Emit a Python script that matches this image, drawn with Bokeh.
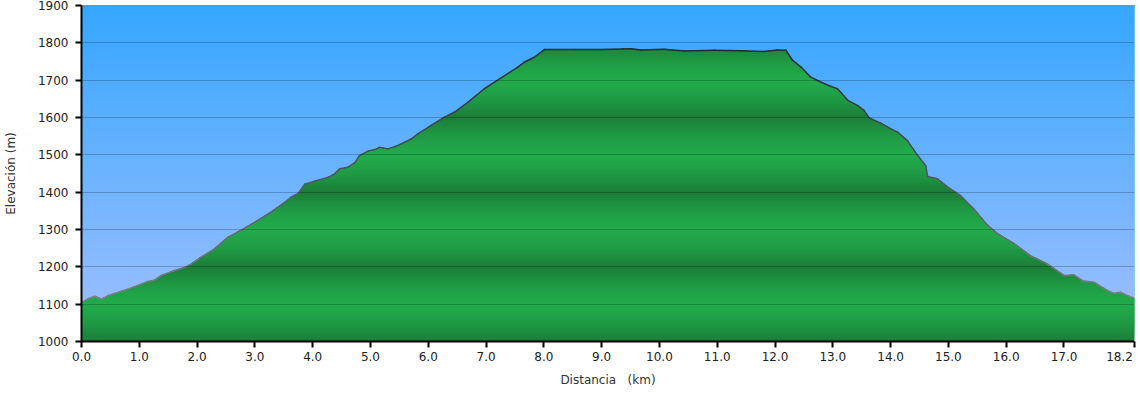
import numpy as np
from bokeh.plotting import figure
from bokeh.models import Range1d, FixedTicker, Span, PrintfTickFormatter
from bokeh.embed import file_html
from bokeh.resources import INLINE

# ---------------- data ----------------
DIST_KM = [0.00, 0.12, 0.23, 0.35, 0.46, 0.69, 0.92, 1.15, 1.27, 1.38, 1.61, 1.79,
           1.90, 2.07, 2.30, 2.53, 2.77, 3.00, 3.23, 3.46, 3.63, 3.75, 3.86, 4.03,
           4.27, 4.38, 4.47, 4.61, 4.73, 4.81, 4.96, 5.07, 5.16, 5.30, 5.42, 5.53,
           5.71, 5.82, 6.05, 6.28, 6.45, 6.69, 6.97, 7.26, 7.55, 7.66, 7.84, 8.01,
           8.53, 9.00, 9.51, 9.68, 10.08, 10.43, 10.95, 11.40, 11.81, 12.04, 12.19,
           12.30, 12.45, 12.62, 12.79, 12.97, 13.08, 13.26, 13.43, 13.54, 13.63,
           13.83, 14.00, 14.12, 14.29, 14.47, 14.61, 14.64, 14.81, 14.98, 15.21,
           15.44, 15.68, 15.85, 16.14, 16.42, 16.71, 17.00, 17.17, 17.32, 17.52,
           17.75, 17.87, 17.98, 18.10, 18.22]
ELEV_M = [1105, 1115, 1121, 1114, 1123, 1135, 1147, 1161, 1165, 1177, 1190, 1199,
          1208, 1226, 1248, 1279, 1299, 1320, 1342, 1366, 1387, 1397, 1421, 1429,
          1440, 1449, 1463, 1467, 1479, 1498, 1510, 1514, 1520, 1516, 1522, 1529,
          1543, 1556, 1579, 1601, 1614, 1641, 1677, 1706, 1735, 1748, 1762, 1782,
          1782, 1782, 1784, 1781, 1783, 1778, 1780, 1779, 1777, 1781, 1780,
          1754, 1735, 1708, 1695, 1683, 1677, 1646, 1632, 1619, 1599,
          1585, 1570, 1561, 1538, 1498, 1470, 1442, 1436, 1415, 1391,
          1355, 1311, 1289, 1262, 1230, 1208, 1177, 1179, 1163, 1159,
          1137, 1129, 1132, 1123, 1116]
X_END = 18.22
X_TICKS = [0, 1, 2, 3, 4, 5, 6, 7, 8, 9, 10, 11, 12, 13, 14, 15, 16, 17, X_END]
X_END_LABEL = "18.2"
Y_TICKS = [1000, 1100, 1200, 1300, 1400, 1500, 1600, 1700, 1800, 1900]
Y_MIN, Y_MAX = 1000, 1900

FONT = "DejaVu Sans"
STEP = 4


def hexcol(c):
    return "#%02x%02x%02x" % tuple(int(round(v)) for v in c)


def mix(c1, c2, t):
    return [a + (b - a) * t for a, b in zip(c1, c2)]


# ---------------- figure ----------------
p = figure(width=1140, height=389, output_backend="svg", toolbar_location=None,
           x_range=Range1d(0, X_END), y_range=Range1d(Y_MIN, Y_MAX),
           min_border_left=80, min_border_right=6, min_border_top=5,
           min_border_bottom=44)
p.outline_line_color = None
p.background_fill_color = "white"
p.border_fill_color = "white"

# sky gradient (overlapping bands drawn bottom-up, so no seams)
levels = np.arange(Y_MIN, Y_MAX, STEP)
sky_top = (53, 166, 255)
sky_bot = (163, 192, 255)
sky_cols = [hexcol(mix(sky_bot, sky_top, (l + STEP / 2 - Y_MIN) / (Y_MAX - Y_MIN)))
            for l in levels]
p.quad(left=0, right=X_END, bottom=levels, top=Y_MAX,
       fill_color=sky_cols, line_color=None)


# ground: polygons under the profile, each starting at a higher level
def densify(x, y, lv):
    xs, ys = [x[0]], [y[0]]
    for i in range(len(x) - 1):
        x0, y0, x1, y1 = x[i], y[i], x[i + 1], y[i + 1]
        if y1 != y0:
            lo, hi = min(y0, y1), max(y0, y1)
            ls = sorted([L for L in lv if lo < L < hi], reverse=(y1 < y0))
            for L in ls:
                t = (L - y0) / (y1 - y0)
                xs.append(x0 + t * (x1 - x0))
                ys.append(L)
        xs.append(x1)
        ys.append(y1)
    return np.array(xs, dtype=float), np.array(ys, dtype=float)


dx, dy = densify(DIST_KM, ELEV_M, list(levels))

light = (34, 170, 75)
dark = (27, 124, 56)
gxs, gys, gcols = [], [], []
for a in levels:
    mask = dy >= a - 1e-9
    if not mask.any():
        continue
    tx = dx[mask]
    ty = dy[mask]
    gxs.append(list(tx) + [tx[-1], tx[0]])
    gys.append(list(ty) + [a, a])
    c = a + STEP / 2
    t = abs(((c - Y_MIN) % 200) - 100) / 100.0
    gcols.append(hexcol(mix(light, dark, t ** 1.5)))
p.patches(xs=gxs, ys=gys, fill_color=gcols, line_color=None)

# profile outline: grey at low elevations, dark slate near the summit
x0s, y0s = DIST_KM[:-1], ELEV_M[:-1]
x1s, y1s = DIST_KM[1:], ELEV_M[1:]
low_line = (128, 130, 140)
high_line = (36, 44, 58)
seg_cols = []
for ya, yb in zip(y0s, y1s):
    t = min(max(((ya + yb) / 2 - 1100) / 680.0, 0.0), 1.0)
    seg_cols.append(hexcol(mix(low_line, high_line, t)))
p.segment(x0=x0s, y0=y0s, x1=x1s, y1=y1s, line_color=seg_cols,
          line_width=1.5, line_cap="round")

# right edge line
p.add_layout(Span(location=X_END, dimension="height", line_color="#8fe39c",
                  line_width=1))

# grid
p.xgrid.visible = False
p.ygrid.grid_line_color = "black"
p.ygrid.grid_line_alpha = 0.22
p.ygrid.grid_line_width = 1
p.ygrid.level = "annotation"

# axes
p.xaxis.ticker = FixedTicker(ticks=X_TICKS)
p.xaxis.formatter = PrintfTickFormatter(format="%.1f")
# last label sits to the left of its tick (padding keeps it inside the page)
p.xaxis.major_label_overrides = {X_END: X_END_LABEL + "\u00a0" * 2}
p.yaxis.ticker = FixedTicker(ticks=Y_TICKS)

for ax in (p.xaxis[0], p.yaxis[0]):
    ax.axis_line_color = "black"
    ax.axis_line_width = 2
    ax.major_tick_line_color = "black"
    ax.major_tick_line_width = 2
    ax.major_tick_in = 0
    ax.major_tick_out = 6
    ax.minor_tick_line_color = None
    ax.major_label_text_font = FONT
    ax.major_label_text_font_size = "12px"
    ax.major_label_text_color = "#222222"
    ax.axis_label_text_font = FONT
    ax.axis_label_text_font_size = "12px"
    ax.axis_label_text_font_style = "normal"
    ax.axis_label_text_color = "#333333"

p.xaxis.axis_label = "Distancia\u00a0\u00a0\u00a0(km)"
p.xaxis.major_label_standoff = 2
p.xaxis.axis_label_standoff = 6
p.yaxis.axis_label = "Elevación (m)"
p.yaxis.major_label_standoff = 7
p.yaxis.axis_label_standoff = 17

open("out.html", "w").write(file_html(p, INLINE))
